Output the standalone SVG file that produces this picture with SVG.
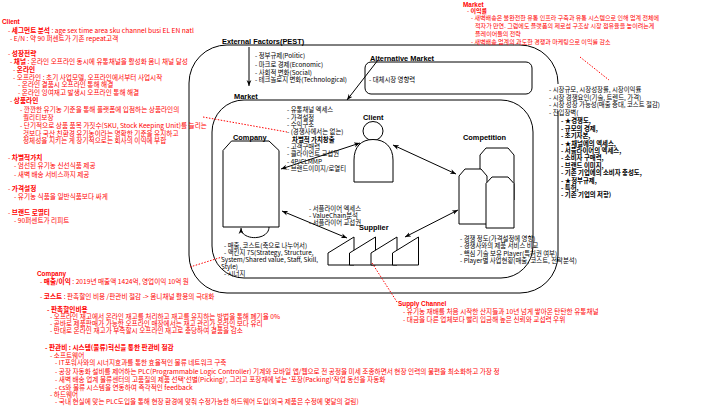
<svg xmlns="http://www.w3.org/2000/svg" width="720" height="414" viewBox="0 0 720 414">
<defs>
<style>
.t{font-family:"Noto Sans CJK KR","Liberation Sans",sans-serif;font-size:6.4px;fill:#000}
.r{fill:#ff0000}
.b{font-weight:bold}
#note-client .t,#note-company .t,#note-supply-channel .t{font-size:6.65px}
#note-market .t{font-size:6.05px}
.lbl{font-family:"Liberation Sans",Arial,sans-serif;font-weight:bold;font-size:7.4px;fill:#000}
.rt{font-family:"Liberation Sans",Arial,sans-serif;font-weight:bold;font-size:6.4px;fill:#ff0000}
.shape{fill:#fff;stroke:#000;stroke-width:1}
.box{fill:#fff;stroke:#000;stroke-width:1}
.conn{fill:none;stroke:#000;stroke-width:1}
.dot{fill:none;stroke:#ff0000;stroke-width:1;stroke-dasharray:1.5 1.5}
</style>
<marker id="ah" viewBox="0 0 10 10" refX="10" refY="5" markerWidth="6" markerHeight="6" markerUnits="userSpaceOnUse" orient="auto-start-reverse">
<path d="M0,1 L10,5 L0,9 L3,5 Z" fill="#000"/>
</marker>
</defs>
<rect x="0" y="0" width="720" height="414" fill="#fff"/>

<g id="external-factors">
<rect class="box" x="189" y="45" width="369" height="248" rx="38" ry="38"/>
<text class="lbl" x="222" y="44">External Factors(PEST)</text>
<text class="t" x="255" y="58.4">- 정부규제(Politic)</text>
<text class="t" x="255" y="66.6">- 마크로 경제(Economic)</text>
<text class="t" x="255" y="74.7">- 사회적 변화(Social)</text>
<text class="t" x="255" y="82.4">- 테크놀로지 변화(Technological)</text>
</g>

<g id="external-notes">
<rect x="547" y="84" width="125" height="27" fill="#fff"/>
<text class="t" x="549" y="91.7">- 시장규모, 시장성장률, 시장이익률</text>
<text class="t" x="549" y="99.7">- 시장 경쟁요인(기술, 트렌드, 가격)</text>
<text class="t" x="549" y="107.4">- 시장 성장 가능성(매출 증대, 코스트 절감)</text>
<text class="t" x="549" y="115">- 진입장벽(</text>
<text class="t b" x="561" y="123.2">- ★경쟁도,</text>
<text class="t b" x="561" y="130.6">- 규모의 경제,</text>
<text class="t b" x="561" y="138">- 초기자본,</text>
<text class="t b" x="561" y="145.5">- ★채널에의 엑세스,</text>
<text class="t b" x="561" y="152.9">- 서플라이어의 엑세스,</text>
<text class="t b" x="561" y="160.3">- 소비자 구매력,</text>
<text class="t b" x="561" y="167.7">- 브랜드 이미지,</text>
<text class="t b" x="561" y="175.1">- 기존 기업에의 소비자 충성도,</text>
<text class="t b" x="561" y="182.6">- ★정부규제,</text>
<text class="t b" x="561" y="190">- 특허,</text>
<text class="t b" x="561" y="197.4">- 기존 기업의 저항)</text>
</g>

<g id="alternative-market">
<rect class="box" x="365" y="62" width="167" height="32" rx="6" ry="6"/>
<text class="lbl" x="370" y="60.5">Alternative Market</text>
<text class="t" x="369" y="81.7">- 대체시장 영향력</text>
</g>

<g id="market">
<rect class="box" x="212" y="100" width="321" height="178" rx="32" ry="32"/>
<text class="lbl" x="234" y="98.5">Market</text>
</g>

<g id="client">
<ellipse class="shape" cx="373" cy="131" rx="10" ry="9.5"/>
<path class="shape" d="M354,182 V160 C354,147 361,139.5 373,139.5 C385,139.5 393,147 393,160 V182 Z"/>
<text class="lbl" x="363" y="119.5">Client</text>
<text class="t" x="287" y="112.4">- 유통채널 엑세스</text>
<text class="t" x="287" y="119.7">- 가격설정</text>
<text class="t" x="287" y="127">- 수익구조</text>
<text class="t" x="287" y="134.4">- (경쟁사에서는 없는)</text>
<text class="t b" x="292" y="141.7">차별적 가치창출</text>
<text class="t" x="287" y="149">- 고객구매력</text>
<text class="t" x="287" y="156.4">- 클라이언트 교섭권</text>
<text class="t" x="287" y="163.7">- 4P/CLMMP</text>
<text class="t" x="287" y="171">- 브랜드이미지/로열티</text>
</g>

<g id="company">
<polygon class="shape" points="231.5,141 269,141 279,150.5 279,227 223,227 223,150.5"/>
<text class="lbl" x="233" y="140">Company</text>
<text class="t" x="224" y="247.5">- 매출, 코스트(축으로 나누어서)</text>
<text class="t" x="224" y="254.6">- 맥킨지 7S(Strategy, Structure,</text>
<text class="t" x="221" y="261.6">System/Shared value, Staff, Skill,</text>
<text class="t" x="221" y="268.6">Style)</text>
<text class="t" x="224" y="275.6">- 시너지</text>
</g>

<g id="competition">
<polygon class="shape" points="486,148 508,148 514,155 514,200 480,200 480,155"/>
<polygon class="shape" points="465,169 481,169 487,176 487,224 459,224 459,176"/>
<polygon class="shape" points="492,177 508,177 514,183.5 514,228 486,228 486,183.5"/>
<text class="lbl" x="463" y="139.7">Competition</text>
<text class="t" x="460" y="241">- 경쟁 정도(가격설정에 영향)</text>
<text class="t" x="460" y="248.4">- 경쟁사와의 제품 서비스 비교</text>
<text class="t" x="460" y="255.8">- 핵심 기술 보유 Player(특허권 여부)</text>
<text class="t" x="460" y="263.2">- Player별 사업현황(매출, 코스트, 전략분석)</text>
</g>

<g id="supplier">
<polygon class="shape" points="328,265 328,253 354,237 354,265"/>
<polygon class="shape" points="349.5,265 349.5,253 375.5,237 375.5,265"/>
<polygon class="shape" points="371,265 371,253 397,237 397,265"/>
<polygon class="shape" points="392.5,265 392.5,253 418.5,237 418.5,265"/>
<text class="t" x="309" y="210.5">- 서플라이어 엑세스</text>
<text class="t" x="309" y="217.6">- ValueChain분석</text>
<text class="t" x="309" y="224.7">- 서플라이어 교섭권</text>
<text class="lbl" x="359" y="230">Supplier</text>
</g>

<g id="connectors">
<line class="conn" x1="249" y1="47" x2="249" y2="86" marker-end="url(#ah)"/>
<line class="conn" x1="378" y1="60" x2="347" y2="100" marker-end="url(#ah)"/>
<line class="conn" x1="360" y1="143" x2="281" y2="169" marker-start="url(#ah)" marker-end="url(#ah)"/>
<line class="conn" x1="393" y1="145" x2="456" y2="174" marker-start="url(#ah)" marker-end="url(#ah)"/>
<line class="conn" x1="282" y1="211" x2="347" y2="238" marker-start="url(#ah)" marker-end="url(#ah)"/>
<line class="conn" x1="458" y1="210" x2="405" y2="237" marker-start="url(#ah)" marker-end="url(#ah)"/>
<path class="conn" d="M269,227 C269,241 241,241 241,228" marker-end="url(#ah)"/>
<line class="dot" x1="203" y1="117" x2="287" y2="132"/>
<line class="dot" x1="190" y1="267" x2="222" y2="257"/>
<line class="dot" x1="372" y1="263" x2="397" y2="302"/>
<line class="dot" x1="580" y1="57" x2="609" y2="80"/>
</g>

<g id="note-client">
<text class="rt" x="2" y="24.3">Client</text>
<text class="t r" x="8" y="33.1">- <tspan class="b">세그먼트 분석</tspan> : age sex time area sku channel busi EL EN natl</text>
<text class="t r" x="10" y="40.7">- E/N : 약 90 퍼센트가 기존 repeat고객</text>
<text class="t r" x="8" y="55.7">- <tspan class="b">성장전략</tspan></text>
<text class="t r" x="10" y="64.1">- <tspan class="b">채널</tspan> : 온라인 오프라인 동시에 유통채널을 활성화 옴니 채널 달성</text>
<text class="t r" x="13" y="71.7">- <tspan class="b">온라인</tspan></text>
<text class="t r" x="13" y="80.1">- 오프라인 : 초기 사업모델, 오프라인에서부터 사업시작</text>
<text class="t r" x="18" y="87.4">- 온라인 결품시 오프라인 통해 해결</text>
<text class="t r" x="18" y="95.1">- 온라인 잉여재고 발생시 오프라인 통해 해결</text>
<text class="t r" x="10" y="103.1">- <tspan class="b">상품라인</tspan></text>
<text class="t r" x="20" y="111.6">- 깐깐한 유기농 기준을 통해 플랫폼에 입점하는 상품라인의</text>
<text class="t r" x="23" y="119.7">퀄리티보장</text>
<text class="t r" x="20" y="128.1">- 단기적으로 상품 품목 가짓수(SKU, Stock Keeping Unit)를 늘리는</text>
<text class="t r" x="23" y="135.7">것보다 국산 친환경 유기농이라는 명확한 기준을 유지하고</text>
<text class="t r" x="23" y="143.4">정체성을 지키는 게 장기적으로는 회사의 이익에 부합</text>
<text class="t r" x="8" y="160.1">- <tspan class="b">차별적가치</tspan></text>
<text class="t r" x="14" y="168.1">- 엄선된 유기농 신선식품 제공</text>
<text class="t r" x="14" y="176.7">- 새벽 배송 서비스까지 제공</text>
<text class="t r" x="8" y="191.4">- <tspan class="b">가격설정</tspan></text>
<text class="t r" x="14" y="199.1">- 유기농 식품을 일반식품보다 싸게</text>
<text class="t r" x="8" y="215.1">- <tspan class="b">브랜드 로열티</tspan></text>
<text class="t r" x="14" y="223.4">- 90퍼센트가 리피트</text>
</g>

<g id="note-market">
<text class="rt" x="463" y="6.5">Market</text>
<text class="t r" x="467" y="13.4">- <tspan class="b">이익률</tspan></text>
<text class="t r" x="471" y="20.1">- 새벽배송은 불완전한 유통 인프라 구축과 유통 시스템으로 인해 업계 전체에</text>
<text class="t r" x="475" y="28.4">적자가 만연. 그럼에도 플랫폼의 제로섬 구조상 시장 점유율을 높이려는게</text>
<text class="t r" x="475" y="35.7">플레이어들의 전략</text>
<text class="t r" x="471" y="44.1">- 새벽배송 업계의 과도한 경쟁과 마케팅으로 이익률 감소</text>
</g>

<g id="note-company">
<text class="rt" x="37" y="276">Company</text>
<text class="t r" x="40" y="284.4">- <tspan class="b">매출/이익</tspan> : 2019년 매출액 1424억, 영업이익 10억 원</text>
<text class="t r" x="40" y="298.9">- <tspan class="b">코스트</tspan> : 판촉할인 비용 /판관비 절감 -&gt; 옴니채널 활용의 극대화</text>
<text class="t r b" x="47" y="311.6">- 판촉할인비용</text>
<text class="t r" x="50" y="318.6">- 오프라인 재고에서 온라인 재고를 처리하고 재고를 유지하는 방법을 통해 폐기율 0%</text>
<text class="t r" x="50" y="325.6">- 곧바로 제품판매가 가능한 오프라인 매장에서는 재고 관리가 온라인 보다 유리</text>
<text class="t r" x="50" y="332.6">- 반대로 온라인 재고가 부족할시 오프라인 재고로 충당하여 결품을 감소</text>
<text class="t r b" x="45" y="350.4">- 판관비 : 시스템(물류)혁신을 통한 판관비 절감</text>
<text class="t r" x="50" y="357.6">- 소프트웨어</text>
<text class="t r" x="55" y="365.4">- IT포워사와의 시너지효과를 통한 효율적인 물류 네트워크 구축</text>
<text class="t r" x="55" y="374">- 공장 자동화 설비를 제어하는 PLC(Programmable Logic Controller) 기계와 모바일 앱/웹으로 전 공정을 미세 조종하면서 현장 인력의 불편을 최소화하고 가장 정</text>
<text class="t r" x="55" y="382.2">- 새벽 배송 업계 물류센터의 고품질의 제품 선택'선별(Picking)', 그리고 포장재에 넣는 '포장(Packing)'작업 동선을 자동화</text>
<text class="t r" x="55" y="389.7">- cs와 물류 시스템을 연동하여 즉각적인 feedback</text>
<text class="t r" x="50" y="397.3">- 하드웨어</text>
<text class="t r" x="55" y="404.3">- 국내 현실에 맞는 PLC도입을 통해 현장 환경에 맞춰 수정가능한 하드웨어 도입(외국 제품은 수정에 몇달의 걸림)</text>
</g>

<g id="note-supply-channel">
<text class="rt" x="398" y="306.3">Supply Channel</text>
<text class="t r" x="403" y="313.5">- 유기농 재배를 처음 시작한 산지들과 10년 넘게 쌓아온 탄탄한 유통채널</text>
<text class="t r" x="403" y="321.7">- 대금을 다른 업체보다 빨리 입금해 높은 신뢰와 교섭력 우위</text>
</g>
</svg>
